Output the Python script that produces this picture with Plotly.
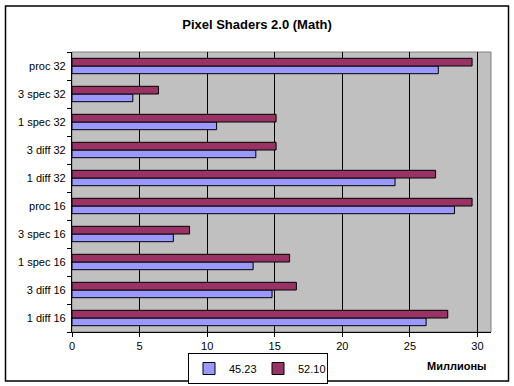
import plotly.graph_objects as go

categories = ["1 diff 16", "3 diff 16", "1 spec 16", "3 spec 16", "proc 16",
              "1 diff 32", "3 diff 32", "1 spec 32", "3 spec 32", "proc 32"]
series_names = ["45.23", "52.10"]
values_4523 = [26.2, 14.8, 13.4, 7.5, 28.3, 23.9, 13.6, 10.7, 4.5, 27.1]
values_5210 = [27.8, 16.6, 16.1, 8.7, 29.6, 26.9, 15.1, 15.1, 6.4, 29.6]
x_ticks = [0, 5, 10, 15, 20, 25, 30]

W, H = 514, 386
L, R, T, B = 72, 23, 52, 54
pw, ph = W - L - R, H - T - B

def px(x):
    return (x - L) / pw

def py(y):
    return (H - B - y) / ph

fig = go.Figure()
fig.add_trace(go.Bar(y=categories, x=values_4523, name=series_names[0], orientation="h",
                     marker=dict(color="#9999FF", line=dict(color="black", width=1))))
fig.add_trace(go.Bar(y=categories, x=values_5210, name=series_names[1], orientation="h",
                     marker=dict(color="#993366", line=dict(color="black", width=1))))

fig.update_layout(
    width=W, height=H,
    margin=dict(l=L, r=R, t=T, b=B, autoexpand=False),
    paper_bgcolor="white",
    plot_bgcolor="#C0C0C0",
    font=dict(family="Liberation Sans, Arial, sans-serif", size=11, color="black"),
    barmode="group",
    bargap=0.45,
    bargroupgap=0,
    title=dict(text="<b>Pixel Shaders 2.0 (Math)</b>", x=0.5, xanchor="center",
               y=1 - 24 / H, yanchor="middle", font=dict(size=13)),
    showlegend=True,
    legend=dict(orientation="h", x=px(188), xanchor="left", y=py(353), yanchor="top",
                bordercolor="black", borderwidth=1, bgcolor="white",
                font=dict(size=11), entrywidth=24, itemwidth=30,
                tracegroupgap=0),
    xaxis=dict(range=[0, 31], tickvals=x_ticks, showgrid=True, gridcolor="black", gridwidth=1,
               showline=True, linecolor="black", linewidth=1, ticks="outside", ticklen=4,
               tickcolor="black", zeroline=False, mirror=False, fixedrange=True,
               automargin=False),
    yaxis=dict(type="category", categoryorder="array", categoryarray=categories,
               showline=True, linecolor="black", linewidth=1, ticks="outside", ticklen=4,
               tickcolor="black", tickson="boundaries", showgrid=False, ticksuffix=" ",
               automargin=False),
    shapes=[
        dict(type="rect", xref="paper", yref="paper", x0=0, x1=1, y0=0, y1=1,
             line=dict(color="#808080", width=1), layer="below"),
        dict(type="rect", xref="paper", yref="paper", x0=px(5.5), x1=px(508.5),
             y0=py(381), y1=py(6), line=dict(color="black", width=1.5)),
    ],
    annotations=[
        dict(text="<b>Миллионы</b>", xref="paper", yref="paper", x=px(488), y=py(366),
             xanchor="right", yanchor="middle", showarrow=False, font=dict(size=11)),
    ],
)

fig.write_html("out.html", config={"displayModeBar": False},
               post_script="document.body.style.margin='0';document.body.style.overflow='hidden';")
